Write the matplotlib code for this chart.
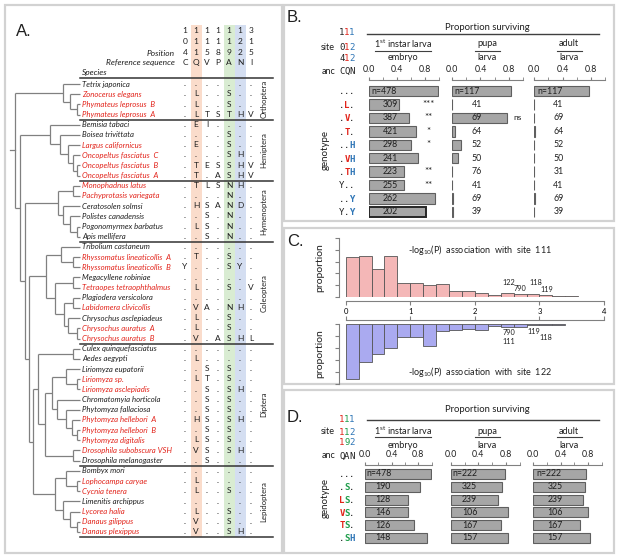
import matplotlib
matplotlib.use("Agg")
import matplotlib.pyplot as plt
from matplotlib.patches import Rectangle
import numpy as np

plt.rcParams["font.family"] = ["Lato", "DejaVu Sans"]
plt.rcParams["mathtext.fontset"] = "custom"
plt.rcParams["mathtext.rm"] = "Lato"
plt.rcParams["mathtext.it"] = "Lato:italic"

BLACK = "#1f1f1f"
RED = "#e2231a"
BLUE = "#2e75b6"
GREEN = "#1e9e4a"
AXIS = "#808080"
BAR = "#a6a6a6"
BAR_EDGE = "#5f5f5f"
MONO = "DejaVu Sans Mono"

# ---------------- panel A: alignment ----------------
POSITIONS = ["104", "111", "115", "118", "119", "122", "315"]
REFERENCE = "CQVPANI"
SPECIES = [
    "Tetrix japonica", "Zonocerus elegans", "Phymateus leprosus  B", "Phymateus leprosus  A",
    "Bemisia tabaci", "Boisea trivittata", "Largus californicus", "Oncopeltus fasciatus  C",
    "Oncopeltus fasciatus  B", "Oncopeltus fasciatus  A",
    "Monophadnus latus", "Pachyprotasis variegata", "Ceratosolen solmsi", "Polistes canadensis",
    "Pogonomyrmex barbatus", "Apis mellifera",
    "Tribolium castaneum", "Rhyssomatus lineaticollis  A", "Rhyssomatus lineaticollis  B",
    "Megacyllene robiniae", "Tetraopes tetraophthalmus", "Plagiodera versicolora",
    "Labidomera clivicollis", "Chrysochus asclepiadeus", "Chrysochus auratus  A",
    "Chrysochus auratus  B",
    "Culex quinquefasciatus", "Aedes aegypti", "Liriomyza eupatorii", "Liriomyza sp.",
    "Liriomyza asclepiadis", "Chromatomyia horticola", "Phytomyza fallaciosa",
    "Phytomyza hellebori  A", "Phytomyza hellebori  B", "Phytomyza digitalis",
    "Drosophila subobscura VSH", "Drosophila melanogaster",
    "Bombyx mori", "Lophocampa caryae", "Cycnia tenera", "Limenitis archippus",
    "Lycorea halia", "Danaus gilippus", "Danaus plexippus",
]
RESISTANT = [0, 1, 1, 1,
             0, 0, 1, 1, 1, 1,
             1, 1, 0, 0, 0, 0,
             0, 1, 1, 0, 1, 0, 1, 0, 1, 1,
             0, 0, 0, 1, 1, 0, 0, 1, 1, 1, 1, 0,
             0, 1, 1, 0, 1, 1, 1]
ALIGNMENT = [
    ".......", ".L..S..", ".L..S..", ".LTSTHV",
    ".EI....", "....S..", ".E..S..", "....SH.", ".TESSHV", ".T.ASHV",
    ".TLSNH.", "....N..", ".HSAND.", "..S.N..", ".LS.N..", "..S.N..",
    ".......", ".T..S..", "Y...SY.", ".......", ".L..S.V", ".......", ".VA.NH.",
    ".L..S..", ".L..S..", ".V.ASHL",
    ".......", ".L.....", "..S.S..", ".LT.S..", "..S.SH.", "..S.S..", "..S.S..",
    ".HS.SH.", "..S.S..", ".LS.S..", ".VS.SH.", "..S....",
    ".......", ".L.....", ".L..S..", ".......", ".L..S..", ".V..S..", ".V..SH.",
]
ORDERS = [("Orthoptera", 0, 3), ("Hemiptera", 4, 9), ("Hymenoptera", 10, 15),
          ("Coleoptera", 16, 25), ("Diptera", 26, 37), ("Lepidoptera", 38, 44)]

# tree: (node x, children); leaves are row indices
TREE = (15, [
    (63, [0, (70, [1, (77, [2, 3])])]),
    (20, [
        (50, [4, (60, [5, (68, [6, (73, [7, (77, [8, 9])])])])]),
        (25, [
            (58, [(73, [10, 11]), (63, [12, (70, [13, (77, [14, 15])])])]),
            (29, [
                (46, [(61, [16, (73, [17, 18])]),
                      (55, [(73, [19, 20]), (64, [(73, [21, 22]), (68, [23, (77, [24, 25])])])])]),
                (33, [
                    (38, [(73, [26, 27]),
                          (45, [(52, [(66, [28, (77, [29, 30])]),
                                      (57, [31, (66, [32, (72, [33, (77, [34, 35])])])])]),
                                (73, [36, 37])])]),
                    (55, [(66, [38, (77, [39, 40])]), (63, [41, (70, [42, (77, [43, 44])])])]),
                ]),
            ]),
        ]),
    ]),
])

# ---------------- panel B ----------------
SITES_B = ["111", "012", "412"]
ANC_B = "CQN"
GENOTYPES_B = ["...", ".L.", ".V.", ".T.", "..H", ".VH", ".TH", "Y..", "..Y", "Y.Y"]
N_EMBRYO_B = [478, 309, 387, 421, 298, 241, 223, 255, 262, 202]
N_PUPA_B = [117, 41, 69, 64, 52, 50, 76, 41, 69, 39]
N_ADULT_B = [117, 41, 69, 64, 52, 50, 31, 41, 69, 39]
SURV_EMBRYO_B = [0.98, 0.43, 0.57, 0.67, 0.60, 0.70, 0.50, 0.50, 0.94, 0.81]
SURV_PUPA_B = [0.83, 0.0, 0.78, 0.035, 0.13, 0.075, 0.0, 0.0, 0.012, 0.01]
SURV_ADULT_B = [0.77, 0.0, 0.0, 0.012, 0.0, 0.0, 0.0, 0.0, 0.012, 0.0]
SIG_EMBRYO_B = ["", "***", "**", "*", "*", "", "**", "**", "", ""]
SIG_PUPA_B = ["", "", "ns", "", "", "", "", "", "", ""]

# ---------------- panel C ----------------
HIST_111 = [0.169, 0.176, 0.117, 0.176, 0.057, 0.057, 0.049, 0.053, 0.024,
            0.026, 0.014, 0.007, 0.014, 0.013, 0.013, 0.007, 0.003, 0.003]
HIST_122 = [0.229, 0.157, 0.125, 0.101, 0.053, 0.053, 0.090, 0.029, 0.025,
            0.021, 0.026, 0.010, 0.014, 0.014, 0.004, 0.004, 0.004]
BIN_WIDTH = 0.2
NOTES_111 = [("122", 2.53, 0.063), ("118", 2.95, 0.063), ("790", 2.70, 0.037), ("119", 3.12, 0.033)]
NOTES_122 = [("790", 2.53, 0.037), ("111", 2.53, 0.071), ("119", 2.91, 0.033), ("118", 3.10, 0.058)]

# ---------------- panel D ----------------
SITES_D = ["111", "112", "192"]
ANC_D = "QAN"
GENOTYPES_D = ["...", ".S.", "LS.", "VS.", "TS.", ".SH"]
N_EMBRYO_D = [478, 190, 128, 146, 126, 148]
N_PUPA_D = [222, 325, 239, 106, 167, 157]
N_ADULT_D = [222, 325, 239, 106, 167, 157]
SURV_EMBRYO_D = [0.99, 0.82, 0.65, 0.64, 0.73, 0.93]
SURV_PUPA_D = [0.78, 0.74, 0.68, 0.83, 0.73, 0.83]
SURV_ADULT_D = [0.77, 0.75, 0.73, 0.79, 0.68, 0.83]

W, H = 617, 558
fig = plt.figure(figsize=(W / 100, H / 100), dpi=100)
bg = fig.add_axes([0, 0, 1, 1])
bg.set_xlim(0, W)
bg.set_ylim(H, 0)
bg.axis("off")


def px_axes(x0, y0, x1, y1):
    ax = fig.add_axes([x0 / W, 1 - y1 / H, (x1 - x0) / W, (y1 - y0) / H])
    ax.patch.set_visible(False)
    return ax


# panel frames
for (x0, y0, x1, y1) in [(5, 5, 282, 553), (284, 5, 614, 221), (284, 228, 614, 384), (284, 390, 614, 553)]:
    bg.add_patch(Rectangle((x0, y0), x1 - x0, y1 - y0, fill=False, edgecolor="#d2d2d2", lw=1.6))

for lab, x, y in [("A.", 16, 32), ("B.", 287, 18), ("C.", 287, 242), ("D.", 287, 417)]:
    bg.text(x, y, lab, fontsize=12, ha="left", va="center", family=["Liberation Sans"], color=BLACK)

# ---------------- draw panel A ----------------
ROW0, ROW_STEP = 84, 10.18
COL0, COL_STEP = 185, 11
LEAF_X = 80


def row_y(r):
    return ROW0 + ROW_STEP * r


col_x = [COL0 + COL_STEP * j for j in range(len(POSITIONS))]

for j, colr in [(1, "#fadccb"), (4, "#d9ecd2"), (5, "#d4def1")]:
    bg.add_patch(Rectangle((col_x[j] - COL_STEP / 2, 25), COL_STEP, 512, color=colr, lw=0, zorder=0))


def letter(x, y, ch, size=6):
    # baseline placement so that dots sit low like the letters' feet
    bg.text(x, y + 0.36 * size, ch, fontsize=size, ha="center", va="baseline", color=BLACK)


for j, pos in enumerate(POSITIONS):
    for k, d in enumerate(pos):
        letter(col_x[j], 31 + 11 * k, d)
    letter(col_x[j], 63, REFERENCE[j])
bg.text(175, 53, "Position", fontsize=6, style="italic", ha="right", va="center", color=BLACK)
bg.text(175, 63, "Reference sequence", fontsize=6, style="italic", ha="right", va="center", color=BLACK)
bg.text(82, 73, "Species", fontsize=6, style="italic", ha="left", va="center", color=BLACK)

for i, (name, res, seq) in enumerate(zip(SPECIES, RESISTANT, ALIGNMENT)):
    y = row_y(i)
    bg.text(82, y, name, fontsize=5.6, style="italic", ha="left", va="center",
            color=RED if res else BLACK)
    for j, ch in enumerate(seq):
        letter(col_x[j], y, ch)

bg.plot([80, 273], [row_y(-0.6)] * 2, color="#333333", lw=1.1)
for name, r0, r1 in ORDERS:
    bg.plot([80, 273], [row_y(r1 + 0.5)] * 2, color="#333333", lw=1.1)
    bg.text(264, (row_y(r0) + row_y(r1)) / 2, name, rotation=90, fontsize=5.6,
            ha="center", va="center", color=BLACK)


def draw_clade(node):
    if isinstance(node, int):
        return row_y(node), LEAF_X
    x, kids = node
    ys = []
    for kid in kids:
        ky, kx = draw_clade(kid)
        bg.plot([x, kx], [ky, ky], color="#808080", lw=0.9, solid_capstyle="butt")
        ys.append(ky)
    bg.plot([x, x], [min(ys), max(ys)], color="#808080", lw=0.9, solid_capstyle="butt")
    return (min(ys) + max(ys)) / 2, x


root_y, root_x = draw_clade(TREE)
bg.plot([10, root_x], [root_y, root_y], color="#808080", lw=0.9)

# ---------------- shared helpers for B / D ----------------
CODE_X = [342, 347, 352]


def draw_code(y, chars, colors, bold):
    for x, ch, c in zip(CODE_X, chars, colors):
        if ch == ".":
            c = BLACK
        bg.text(x, y + 3.3, ch, fontsize=6.5, family=MONO, ha="center", va="baseline", color=c,
                fontweight="bold" if (bold and c != BLACK) else "normal")


def survival_axes(x0, x1, ytop, ybot, row0, step, vals, counts, num_x, first_x,
                  marks=None, mark_x=0.85, strong_last=False):
    ax = px_axes(x0, ytop, x1, ybot)
    rows = np.arange(len(vals))
    bars = ax.barh(rows, vals, height=0.78, color=BAR, edgecolor=BAR_EDGE, linewidth=0.8)
    if strong_last:
        bars[-1].set_edgecolor("#262626")
        bars[-1].set_linewidth(1.4)
    ax.set_xlim(0, 1.0)
    ax.set_ylim((ybot - row0) / step, (ytop - row0) / step)
    for s in ["left", "right", "bottom"]:
        ax.spines[s].set_visible(False)
    ax.spines["top"].set_color(AXIS)
    ax.spines["top"].set_linewidth(0.8)
    ax.xaxis.tick_top()
    ax.set_xticks([0.0, 0.4, 0.8])
    ax.set_xticklabels(["0.0", "0.4", "0.8"])
    ax.set_xticks([0.2, 0.6, 1.0], minor=True)
    ax.tick_params(axis="x", which="both", direction="out", length=2.5, color=AXIS,
                   labelsize=6.3, pad=1.5, labelcolor=BLACK)
    ax.set_yticks([])
    for i, c in enumerate(counts):
        if i == 0:
            ax.text(first_x, i, f"n={c}", ha="left", va="center", fontsize=6.3, color=BLACK)
        else:
            ax.text(num_x, i, str(c), ha="center", va="center", fontsize=6.3, color=BLACK)
    if marks:
        for i, m in enumerate(marks):
            if m:
                ax.text(mark_x, i, m, ha="center", va="center", fontsize=6 if m == "ns" else 7,
                        color=BLACK)
    return ax


def stage_headers(y_title, line_y, y_top, y_bot, underline_y):
    bg.text(487, y_title, "Proportion surviving", fontsize=6.8, ha="center", va="center", color=BLACK)
    bg.plot([367, 599], [line_y, line_y], color="#404040", lw=1.0)
    for cx, top, bot, half in [(403, "1$^{\\rm st}$ instar larva", "embryo", 28),
                               (487, "pupa", "larva", 12.5), (569, "adult", "larva", 12.5)]:
        bg.text(cx, y_top, top, fontsize=6.6, ha="center", va="center", color=BLACK)
        bg.plot([cx - half, cx + half], [underline_y, underline_y], color="#404040", lw=0.8)
        bg.text(cx, y_bot, bot, fontsize=6.6, ha="center", va="center", color=BLACK)


# ---------------- draw panel B ----------------
stage_headers(27, 34, 44, 57, 50.5)
site_cols_b = [BLACK, RED, BLUE]
for yy, s in zip([32, 47, 58], SITES_B):
    draw_code(yy, s, site_cols_b, False)
bg.text(335, 47, "site", fontsize=6.5, ha="right", va="center", color=BLACK)
bg.text(335, 71, "anc", fontsize=6.5, ha="right", va="center", color=BLACK)
draw_code(71, ANC_B, [BLACK] * 3, False)
B_ROW0, B_STEP = 91, 13.44
for i, g in enumerate(GENOTYPES_B):
    draw_code(B_ROW0 + B_STEP * i, g, site_cols_b, True)
bg.text(325, 150, "genotype", rotation=90, fontsize=7, ha="center", va="center", color=BLACK)

survival_axes(369, 439, 80, 220, B_ROW0, B_STEP, SURV_EMBRYO_B, N_EMBRYO_B, 0.30, 0.03,
              SIG_EMBRYO_B, 0.85, strong_last=True)
survival_axes(452.3, 522.7, 80, 220, B_ROW0, B_STEP, SURV_PUPA_B, N_PUPA_B, 0.35, 0.03,
              SIG_PUPA_B, 0.93)
survival_axes(534.3, 605, 80, 220, B_ROW0, B_STEP, SURV_ADULT_B, N_ADULT_B, 0.34, 0.04)

# ---------------- draw panel C ----------------
axc1 = px_axes(339.3, 238.4, 604, 296.7)
left = BIN_WIDTH * np.arange(len(HIST_111))
axc1.bar(left, HIST_111, width=BIN_WIDTH, align="edge", color="#f4b7b7", edgecolor="#555555", lw=0.6)
axc1.set_xlim(-0.1, 4.0)
axc1.set_ylim(0, 0.25)
axc2 = px_axes(339.3, 324, 604, 384)
left = BIN_WIDTH * np.arange(len(HIST_122))
axc2.bar(left, HIST_122, width=BIN_WIDTH, align="edge", color="#aaaaf0", edgecolor="#555555", lw=0.6)
axc2.set_xlim(-0.1, 4.0)
axc2.set_ylim(0.25, 0)

for ax, xs, site, notes, title_y in [(axc1, "bottom", "111", NOTES_111, 0.20),
                                      (axc2, "top", "122", NOTES_122, 0.20)]:
    for s in ["left", "right", "top", "bottom"]:
        ax.spines[s].set_visible(s in ("left", xs))
        ax.spines[s].set_color(AXIS)
        ax.spines[s].set_linewidth(0.8)
    ax.spines[xs].set_position(("outward", 3))
    ax.spines[xs].set_bounds(0, 4)
    ax.spines["left"].set_bounds(0, 0.25)
    ax.set_yticks(np.arange(0, 0.26, 0.05))
    ax.set_yticklabels([])
    ax.set_xticks([0, 1, 2, 3, 4])
    if xs == "top":
        ax.xaxis.tick_top()
        ax.set_xticklabels([])
    ax.tick_params(axis="both", direction="out", length=3, color=AXIS, labelsize=5.5, pad=2)
    ax.set_ylabel("proportion", fontsize=7.5, color=BLACK, labelpad=6)
    ax.text(2.08, title_y, "-log$_{10}$(P)  association  with  site  " + site,
            fontsize=6.5, ha="center", va="center", color=BLACK)
    for txt, x, y in notes:
        ax.text(x, y, txt, fontsize=5.3, ha="center", va="center", color=BLACK)

# ---------------- draw panel D ----------------
stage_headers(410, 420, 431, 445, 437)
site_cols_d = [RED, GREEN, BLUE]
for yy, s in zip([419, 432, 442], SITES_D):
    draw_code(yy, s, site_cols_d, False)
bg.text(335, 432, "site", fontsize=6.5, ha="right", va="center", color=BLACK)
bg.text(335, 456, "anc", fontsize=6.5, ha="right", va="center", color=BLACK)
draw_code(456, ANC_D, [BLACK] * 3, False)
D_ROW0, D_STEP = 474, 12.8
for i, g in enumerate(GENOTYPES_D):
    draw_code(D_ROW0 + D_STEP * i, g, site_cols_d, True)
bg.text(325, 498, "genotype", rotation=90, fontsize=7, ha="center", va="center", color=BLACK)

survival_axes(365, 431.7, 465, 548, D_ROW0, D_STEP, SURV_EMBRYO_D, N_EMBRYO_D, 0.27, 0.02)
survival_axes(450.7, 520, 465, 548, D_ROW0, D_STEP, SURV_PUPA_D, N_PUPA_D, 0.27, 0.03)
survival_axes(533, 602, 465, 548, D_ROW0, D_STEP, SURV_ADULT_D, N_ADULT_D, 0.32, 0.05)

fig.savefig("out.png", dpi=100)
